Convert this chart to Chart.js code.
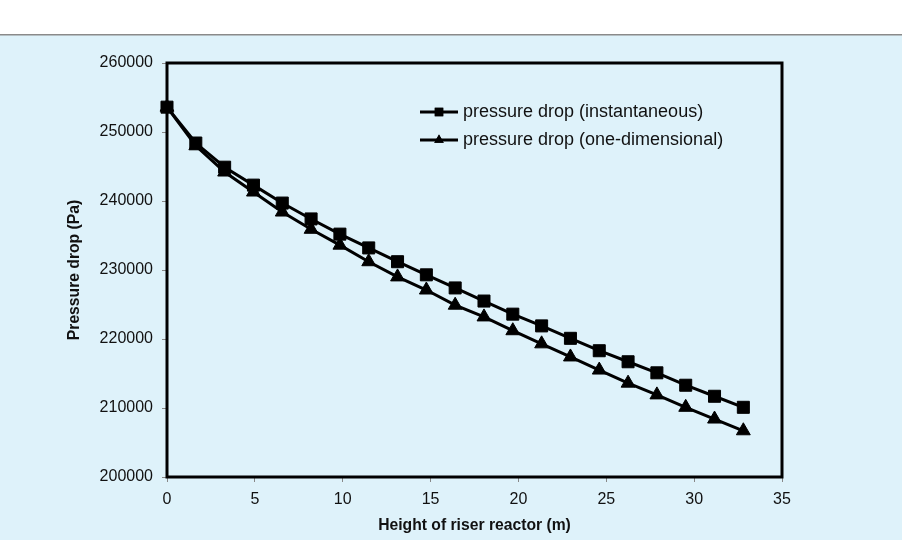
<!DOCTYPE html>
<html>
<head>
<meta charset="utf-8">
<script src="https://cdn.jsdelivr.net/npm/chart.js@4.4.1/dist/chart.umd.min.js"></script>
<style>
    html, body { margin: 0; padding: 0; background: #ffffff; }
    #wrap { width: 902px; height: 540px; }
</style>
</head>
<body>
<div id="wrap"><canvas id="pressureChart" width="902" height="540"></canvas></div>
<script>
// Height along the riser (m)
const heights = [0, 1.64, 3.28, 4.92, 6.56, 8.2, 9.84, 11.48, 13.12, 14.76, 16.4,
    18.04, 19.68, 21.32, 22.96, 24.6, 26.24, 27.88, 29.52, 31.16, 32.8];

// Pressure drop (Pa)
const instantaneous = [253600, 248400, 244900, 242300, 239700, 237400, 235200, 233200, 231200, 229300, 227400,
    225500, 223600, 221900, 220100, 218300, 216700, 215100, 213300, 211700, 210100];
const oneDimensional = [253600, 248000, 244200, 241300, 238400, 235900, 233600, 231200, 229000, 227100, 224900,
    223200, 221200, 219300, 217400, 215500, 213600, 211900, 210100, 208400, 206700];

const seriesNames = ['pressure drop (instantaneous)', 'pressure drop (one-dimensional)'];
const xTicks = [0, 5, 10, 15, 20, 25, 30, 35];
const yTicks = [200000, 210000, 220000, 230000, 240000, 250000, 260000];

const FONT = '"Liberation Sans", Arial, sans-serif';

function toPoints(xs, ys) {
    return xs.map((x, i) => ({ x: x, y: ys[i] }));
}

// page background: white strip, grey rule, light blue panel
const backgroundPlugin = {
    id: 'background',
    beforeDraw: function(chart) {
        const ctx = chart.ctx;
        ctx.save();
        ctx.fillStyle = '#ffffff';
        ctx.fillRect(0, 0, chart.width, chart.height);
        ctx.fillStyle = '#def2fa';
        ctx.fillRect(0, 35, chart.width, chart.height - 35);
        ctx.fillStyle = '#8a8a8a';
        ctx.fillRect(0, 34, chart.width, 1.5);
        ctx.restore();
    }
};

// thick black frame round the plot area
const framePlugin = {
    id: 'frame',
    beforeDatasetsDraw: function(chart) {
        const a = chart.chartArea;
        const ctx = chart.ctx;
        ctx.save();
        ctx.strokeStyle = '#000000';
        ctx.lineWidth = 3;
        ctx.strokeRect(a.left, a.top, a.right - a.left, a.bottom - a.top);
        ctx.restore();
    }
};

// legend drawn inside the plot, like the original
const insideLegend = {
    id: 'insideLegend',
    afterDraw: function(chart) {
        const ctx = chart.ctx;
        const x0 = 420, x1 = 458, rows = [112, 140];
        ctx.save();
        chart.data.datasets.forEach((ds, i) => {
            const y = rows[i];
            ctx.strokeStyle = '#000000';
            ctx.lineWidth = 3;
            ctx.beginPath();
            ctx.moveTo(x0, y);
            ctx.lineTo(x1, y);
            ctx.stroke();
            ctx.fillStyle = '#000000';
            Chart.helpers.drawPoint(ctx, { pointStyle: ds.pointStyle, radius: ds.pointStyle === 'rect' ? 6 : 5.5, borderWidth: 0 }, (x0 + x1) / 2, y);
            ctx.fill();
            ctx.fillStyle = '#111111';
            ctx.font = '18px ' + FONT;
            ctx.textAlign = 'left';
            ctx.textBaseline = 'middle';
            ctx.fillText(ds.label, 463, y);
        });
        ctx.restore();
    }
};

const ctx = document.getElementById('pressureChart').getContext('2d');

const chart = new Chart(ctx, {
    type: 'line',
    data: {
        datasets: [
            {
                label: seriesNames[0],
                data: toPoints(heights, instantaneous),
                borderColor: '#000000',
                backgroundColor: '#000000',
                borderWidth: 3,
                pointStyle: 'rect',
                pointRadius: 8.5,
                pointBorderWidth: 1,
                tension: 0,
                clip: false
            },
            {
                label: seriesNames[1],
                data: toPoints(heights, oneDimensional),
                borderColor: '#000000',
                backgroundColor: '#000000',
                borderWidth: 3,
                pointStyle: 'triangle',
                pointRadius: 8,
                pointBorderWidth: 1,
                tension: 0,
                clip: false
            }
        ]
    },
    options: {
        responsive: false,
        animation: false,
        events: [],
        layout: { padding: { top: 63, right: 120, left: 0, bottom: 0 } },
        plugins: {
            legend: { display: false },
            tooltip: { enabled: false }
        },
        scales: {
            x: {
                type: 'linear',
                min: xTicks[0],
                max: xTicks[xTicks.length - 1],
                afterBuildTicks: (scale) => { scale.ticks = xTicks.map(v => ({ value: v })); },
                afterFit: (scale) => { scale.height = 63; },
                grid: { drawOnChartArea: false, tickLength: 5, tickColor: '#888888', lineWidth: 1 },
                border: { display: false },
                ticks: { color: '#111111', font: { family: FONT, size: 16 }, padding: 8, maxRotation: 0 },
                title: {
                    display: true,
                    text: 'Height of riser reactor (m)',
                    color: '#111111',
                    font: { family: FONT, size: 15.7, weight: 'bold' },
                    padding: { top: 0, bottom: 5 }
                }
            },
            y: {
                type: 'linear',
                min: yTicks[0],
                max: yTicks[yTicks.length - 1],
                afterBuildTicks: (scale) => { scale.ticks = yTicks.map(v => ({ value: v })); },
                afterFit: (scale) => { scale.width = 167; },
                grid: { drawOnChartArea: false, tickLength: 5, tickColor: '#888888', lineWidth: 1 },
                border: { display: false },
                ticks: {
                    color: '#111111',
                    font: { family: FONT, size: 16 },
                    padding: 9,
                    callback: (value) => String(value)
                },
                title: {
                    display: true,
                    text: 'Pressure drop (Pa)',
                    color: '#111111',
                    font: { family: FONT, size: 15.7, weight: 'bold' },
                    padding: { top: 65, bottom: 0 }
                }
            }
        }
    },
    plugins: [backgroundPlugin, framePlugin, insideLegend]
});
</script>
</body>
</html>
